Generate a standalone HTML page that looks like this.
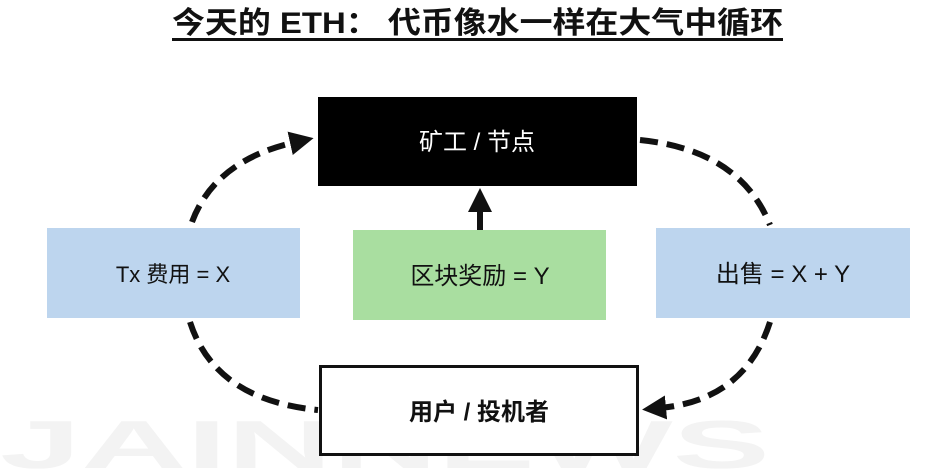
<!DOCTYPE html>
<html><head><meta charset="utf-8"><style>
html,body{margin:0;background:#fff;width:946px;height:470px;overflow:hidden;}
svg{display:block;overflow:hidden;}
text{font-family:"Liberation Sans","Noto Sans CJK SC",sans-serif;}
</style></head><body>
<svg width="946" height="470" viewBox="0 0 946 470">
<text x="0" y="468" font-size="68" font-weight="bold" fill="#f3f3f3" textLength="770" lengthAdjust="spacingAndGlyphs">JAINNEWS</text>
<text x="172" y="33" font-size="30" font-weight="bold" fill="#111" textLength="611" lengthAdjust="spacingAndGlyphs">今天的 ETH： 代币像水一样在大气中循环</text>
<rect x="172" y="38" width="611" height="3" fill="#111"/>
<defs><marker id="ah" markerWidth="4" markerHeight="4" refX="1" refY="2" orient="auto" markerUnits="strokeWidth"><path d="M0,0 L4,2 L0,4 z" fill="#111"/></marker></defs>
<g fill="none" stroke="#111" stroke-width="6" stroke-dasharray="18,9">
<path d="M192,222 Q215,160 296,142" marker-end="url(#ah)"/>
<path d="M640,140 Q740,150 770,225"/>
<path d="M190,322 Q215,400 318,410"/>
<path d="M770,322 Q745,400 660,408" marker-end="url(#ah)"/>
</g>
<path d="M480,230 L480,206" stroke="#111" stroke-width="6" marker-end="url(#ah)"/>
<rect x="318" y="97" width="319" height="89" fill="#000"/>
<text x="477" y="150" font-size="24" fill="#fff" text-anchor="middle">矿工 / 节点</text>
<rect x="47" y="228" width="253" height="90" fill="#bdd5ee"/>
<text x="173" y="282" font-size="22" fill="#111" text-anchor="middle">Tx 费用 = X</text>
<rect x="353" y="230" width="253" height="90" fill="#a9dea0"/>
<text x="480" y="284" font-size="24" fill="#111" text-anchor="middle">区块奖励 = Y</text>
<rect x="656" y="228" width="254" height="90" fill="#bdd5ee"/>
<text x="783" y="282" font-size="24" fill="#111" text-anchor="middle">出售 = X + Y</text>
<rect x="320.5" y="366.5" width="317" height="88" fill="#fff" stroke="#111" stroke-width="3"/>
<text x="479" y="420" font-size="24" font-weight="bold" fill="#111" text-anchor="middle">用户 / 投机者</text>
</svg>
</body></html>
